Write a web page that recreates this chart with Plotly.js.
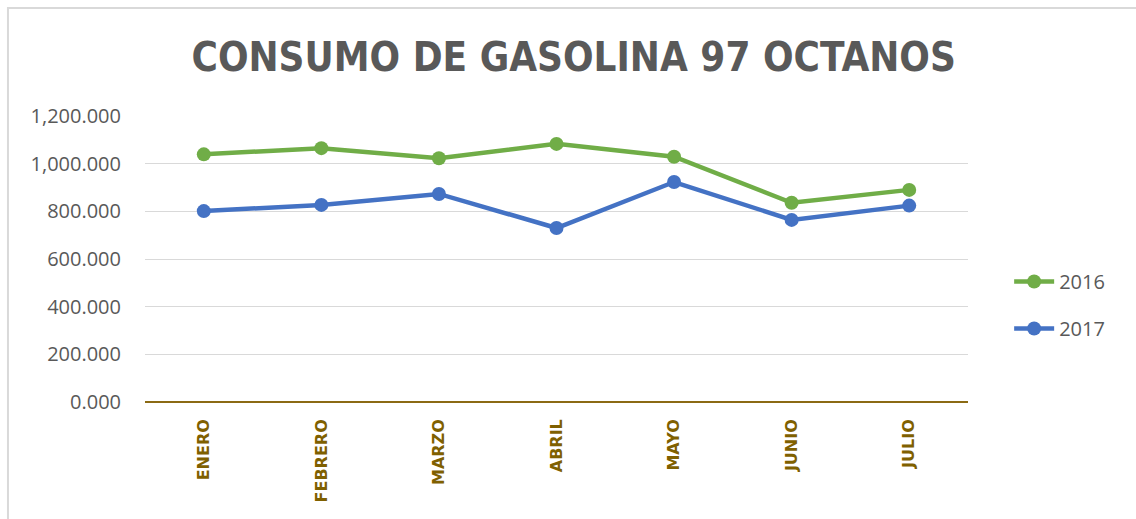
<!DOCTYPE html>
<html>
<head>
<meta charset="utf-8">
<script src="https://cdn.plot.ly/plotly-3.0.1.min.js"></script>
<style>html,body{margin:0;padding:0;background:#fff;}#chart{width:1136px;height:519px;}</style>
</head>
<body>
<div id="chart"></div>
<script>
const months = ["ENERO","FEBRERO","MARZO","ABRIL","MAYO","JUNIO","JULIO"];
const values2016 = [1039, 1065, 1023, 1083, 1029, 836, 890];
const values2017 = [801, 827, 873, 730, 923, 764, 824];
const seriesNames = ["2016", "2017"];

const traces = [
  {x: months, y: values2016, name: seriesNames[0], type: "scatter", mode: "lines+markers",
   line: {color: "#70AD47", width: 4.5}, marker: {color: "#70AD47", size: 14}, legendgroup: "a"},
  {x: months, y: values2017, name: seriesNames[1], type: "scatter", mode: "lines+markers",
   line: {color: "#4472C4", width: 4.5}, marker: {color: "#4472C4", size: 14}, legendgroup: "b"}
];

const layout = {
  width: 1136, height: 519,
  margin: {l: 145, r: 168, t: 116, b: 117},
  paper_bgcolor: "#ffffff", plot_bgcolor: "#ffffff",
  title: {text: "CONSUMO DE GASOLINA 97 OCTANOS", x: 0.505, xanchor: "center", y: 0.89, yanchor: "middle",
    font: {family: "DejaVu Sans Condensed, sans-serif", size: 40, color: "#595959", weight: 700}},
  xaxis: {type: "category", range: [-0.5, 6.5], showgrid: false, zeroline: false, showline: false,
    ticks: "", tickangle: -90, ticklabelstandoff: 13,
    tickfont: {family: "DejaVu Sans, sans-serif", size: 16, color: "#7F6000", weight: 700}},
  yaxis: {range: [0, 1200], dtick: 200, tickformat: ",.3f", showgrid: true, gridcolor: "#d9d9d9", gridwidth: 1,
    zeroline: true, zerolinecolor: "#8B6A14", zerolinewidth: 1.5, showline: false, ticks: "", ticklabelstandoff: 23,
    tickfont: {family: "Open Sans, sans-serif", size: 20, color: "#595959"}},
  showlegend: true,
  legend: {x: 1.05, xanchor: "left", y: 0.339, yanchor: "middle", traceorder: "grouped", tracegroupgap: 18,
    font: {family: "Open Sans, sans-serif", size: 20, color: "#595959"}, itemwidth: 40},
  shapes: [
    {type: "rect", xref: "paper", yref: "paper", x0: -0.1665, x1: 1.3, y0: -0.6, y1: 1.3776,
     line: {color: "#d9d9d9", width: 2}, fillcolor: "rgba(0,0,0,0)", layer: "below"}
  ]
};

Plotly.newPlot("chart", traces, layout, {displayModeBar: false, staticPlot: true});
</script>
</body>
</html>
